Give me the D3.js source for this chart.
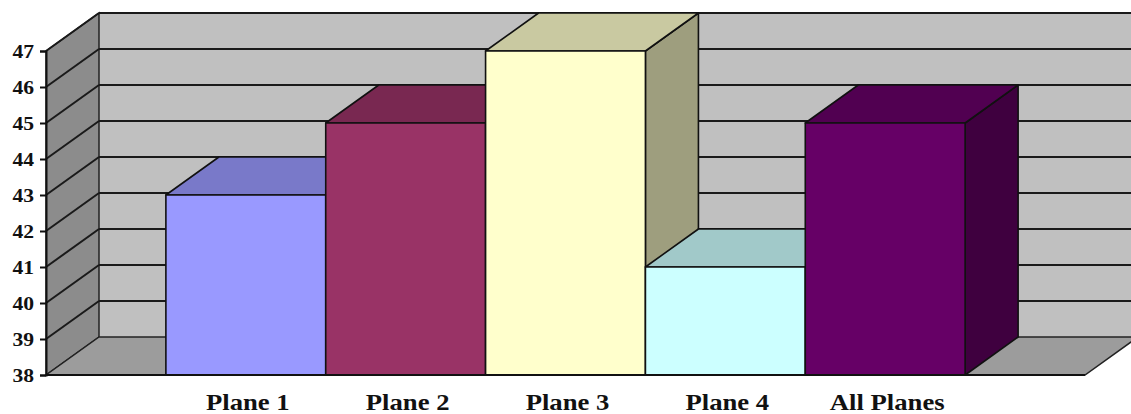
<!DOCTYPE html>
<html>
<head>
<meta charset="utf-8">
<script src="https://cdn.jsdelivr.net/npm/d3@7"></script>
<style>
  html, body { margin: 0; padding: 0; background: #fff; }
  svg { display: block; }
  .lbl { font-family: "Liberation Serif", serif; font-weight: bold; }
</style>
</head>
<body>
<svg id="chart" width="1131" height="414"></svg>
<script>
// Chart data
const categories = ["Plane 1", "Plane 2", "Plane 3", "Plane 4", "All Planes"];
const values = [43, 45, 47, 41, 45];
const barColors = ["#9999FF", "#993366", "#FFFFCC", "#CCFFFF", "#660066"];
const yTicks = [38, 39, 40, 41, 42, 43, 44, 45, 46, 47];

const svg = d3.select("#chart");

// Front plane of the 3D plot area and the oblique depth offset
const plot = { left: 46, right: 1085, top: 51, bottom: 375 };
const depth = { dx: 53, dy: 38 };

const y = d3.scaleLinear().domain([38, 47]).range([plot.bottom, plot.top]);
const x = d3.scaleBand().domain(categories)
  .range([plot.left, plot.right])
  .paddingInner(0).paddingOuter(0.75);

// Shift a front-plane point back by fraction t of the depth
const back = (px, py, t = 1) => [px + depth.dx * t, py - depth.dy * t];
const poly = pts => "M" + pts.map(p => p.join(",")).join("L") + "Z";
const shade = (c, k) => { const r = d3.rgb(c); return d3.rgb(r.r * k, r.g * k, r.b * k).formatHex(); };

const [y0, y1] = y.domain();
const walls = svg.append("g");

// Back wall
walls.append("path")
  .attr("d", poly([back(plot.left, y(y1)), back(plot.right, y(y1)), back(plot.right, y(y0)), back(plot.left, y(y0))]))
  .attr("fill", "#C0C0C0");

// Left side wall
walls.append("path")
  .attr("d", poly([[plot.left, y(y1)], back(plot.left, y(y1)), back(plot.left, y(y0)), [plot.left, y(y0)]]))
  .attr("fill", "#8C8C8C")
  .attr("stroke", "#222").attr("stroke-width", 1.5);

// Floor
walls.append("path")
  .attr("d", poly([[plot.left, y(y0)], [plot.right, y(y0)], back(plot.right, y(y0)), back(plot.left, y(y0))]))
  .attr("fill", "#9C9C9C")
  .attr("stroke", "#222").attr("stroke-width", 1.5);

// Gridlines across the back wall and down the side wall
const grid = walls.append("g").attr("stroke", "#1a1a1a").attr("stroke-width", 2).attr("fill", "none");
yTicks.filter(v => v > y0).forEach(v => {
  const a = back(plot.left, y(v)), b = back(plot.right, y(v));
  grid.append("line").attr("x1", a[0]).attr("y1", a[1]).attr("x2", b[0]).attr("y2", b[1]);
  grid.append("line").attr("x1", plot.left).attr("y1", y(v)).attr("x2", a[0]).attr("y2", a[1]);
});

// 3D columns, drawn left to right so each column hides its neighbour's side face
const bars = svg.append("g").attr("stroke", "#111").attr("stroke-width", 1.6).attr("stroke-linejoin", "round");
categories.forEach((c, i) => {
  const xl = x(c), xr = x(c) + x.bandwidth();
  const yt = y(values[i]), yb = y(y0);
  const col = barColors[i];
  // right side face
  bars.append("path")
    .attr("d", poly([[xr, yt], back(xr, yt), back(xr, yb), [xr, yb]]))
    .attr("fill", shade(col, 0.62));
  // top face
  bars.append("path")
    .attr("d", poly([[xl, yt], back(xl, yt), back(xr, yt), [xr, yt]]))
    .attr("fill", shade(col, 0.79));
  // front face
  bars.append("path")
    .attr("d", poly([[xl, yt], [xr, yt], [xr, yb], [xl, yb]]))
    .attr("fill", col);
});

// Front value axis
const yAxis = svg.append("g")
  .attr("transform", `translate(${plot.left},0)`)
  .call(d3.axisLeft(y).tickValues(yTicks).tickFormat(d3.format("d")).tickSize(6).tickPadding(6));
yAxis.select(".domain").attr("stroke", "#111").attr("stroke-width", 2);
yAxis.selectAll(".tick line").attr("stroke", "#111").attr("stroke-width", 2);
yAxis.selectAll(".tick text")
  .attr("class", "lbl")
  .attr("font-size", 18)
  .attr("fill", "#111")
  .attr("dy", "0.34em")
  .attr("x", 0)
  .attr("transform", "translate(-12,0) scale(1.2,1)");

// Front floor edge
svg.append("line")
  .attr("x1", plot.left).attr("y1", y(y0)).attr("x2", plot.right).attr("y2", y(y0))
  .attr("stroke", "#111").attr("stroke-width", 2);

// Category labels
svg.append("g").selectAll("text").data(categories).join("text")
  .attr("class", "lbl")
  .attr("transform", d => `translate(${x(d) + x.bandwidth() / 2 + 2},410) scale(1.16,1)`)
  .attr("text-anchor", "middle")
  .attr("font-size", 23)
  .attr("fill", "#111")
  .text(d => d);
</script>
</body>
</html>
